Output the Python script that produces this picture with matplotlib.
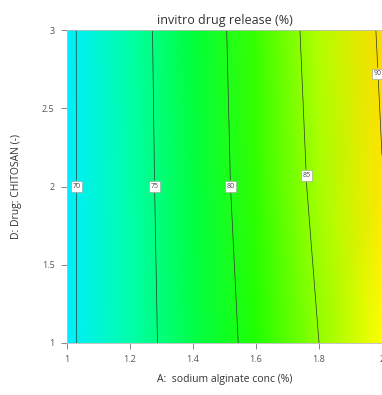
import numpy as np
import matplotlib.pyplot as plt
from matplotlib.colors import LinearSegmentedColormap

# factor levels (grid)
alginate = [1.0, 1.2, 1.4, 1.6, 1.8, 2.0]
chitosan = [1.0, 2.0, 3.0]

# invitro drug release (%) at each grid point, rows = chitosan, cols = alginate
release_d1 = [69.4, 73.3, 77.2, 81.1, 85.0, 89.0]
release_d2 = [69.4, 73.4, 77.5, 81.7, 85.8, 89.9]
release_d3 = [69.4, 73.5, 77.7, 82.0, 86.3, 90.4]

contour_levels = [70, 75, 80, 85, 90]
label_spots = [(1.03, 2.0), (1.28, 2.0), (1.52, 2.0), (1.76, 2.07), (1.98, 2.72)]

xticks = [1, 1.2, 1.4, 1.6, 1.8, 2]
xticklabels = ['1', '1.2', '1.4', '1.6', '1.8', '2']
yticks = [1, 1.5, 2, 2.5, 3]
yticklabels = ['1', '1.5', '2', '2.5', '3']

plt.rcParams['font.family'] = ['Open Sans', 'DejaVu Sans']

Z = np.array([release_d1, release_d2, release_d3])
X, Y = np.meshgrid(alginate, chitosan)

# colour ramp: cyan ~70, green ~80, yellow ~89
vmin, vmax = 60, 99
def pos(v):
    return (v - vmin) / (vmax - vmin)
cmap = LinearSegmentedColormap.from_list('dx', [(0, '#0000ff'), (pos(70), '#00ffff'),
                                                (pos(80), '#00ff00'), (pos(89), '#ffff00'),
                                                (1, '#ff0000')])

fig = plt.figure(figsize=(3.82, 3.95), dpi=100)
ax = fig.add_axes([67/382, 52/395, 315/382, 313/395])

ax.pcolormesh(X, Y, Z, shading='gouraud', cmap=cmap, vmin=vmin, vmax=vmax)
cs = ax.contour(X, Y, Z, levels=contour_levels, colors='#2a3a2a', linewidths=0.5)
labels = ax.clabel(cs, fmt='%d', fontsize=5, inline=True, inline_spacing=2, manual=label_spots)
for t in labels:
    t.set_rotation(0)
    t.set_color('#444444')
    t.set_bbox(dict(facecolor='white', edgecolor='#999999', linewidth=0.4, pad=1.2))

ax.set_xlim(1, 2)
ax.set_ylim(1, 3)
ax.set_xticks(xticks)
ax.set_xticklabels(xticklabels)
ax.set_yticks(yticks)
ax.set_yticklabels(yticklabels)
ax.tick_params(labelsize=6.5, colors='#555555', length=4, width=0.5, pad=5)

for s in ax.spines.values():
    s.set_color('#bbbbbb')
    s.set_linewidth(0.6)

ax.set_title('invitro drug release (%)', fontsize=9, color='#333333', pad=4)
ax.set_xlabel('A:  sodium alginate conc (%)', fontsize=7.5, color='#333333', labelpad=7)
ax.set_ylabel('D: Drug: CHITOSAN (-)', fontsize=7.5, color='#333333', labelpad=14)

fig.savefig('out.png', dpi=100)
